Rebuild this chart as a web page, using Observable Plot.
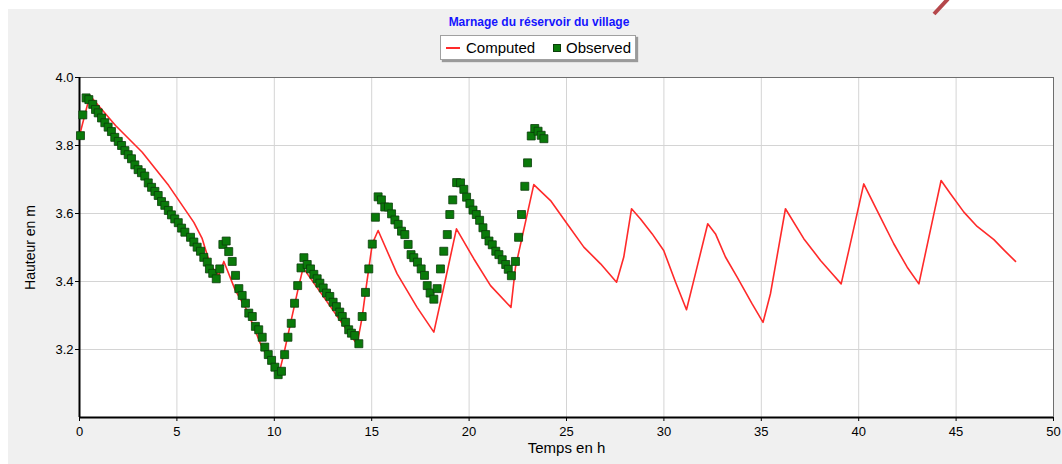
<!DOCTYPE html>
<html>
<head>
<meta charset="utf-8">
<script src="https://cdn.jsdelivr.net/npm/d3@7"></script>
<script src="https://cdn.jsdelivr.net/npm/@observablehq/plot@0.6"></script>
<style>
  body { margin:0; background:#fff; width:1062px; height:464px; overflow:hidden; position:relative; font-family:"Liberation Sans", Arial, sans-serif; }
  #panel { position:absolute; left:8px; top:9px; width:1054px; height:455px; background:#f0f0f0; }
  #title { position:absolute; left:0; width:1078px; top:15px; text-align:center; font-weight:bold; font-size:12px; line-height:14px; color:#1414ff; }
  #legend { position:absolute; left:440px; top:35px; width:196px; height:25px; box-sizing:border-box; background:#fff; border:1px solid #a0a0a0; box-shadow:2px 2px 1px #9a9a9a; font-size:15px; }
  #legend .sw-line { position:absolute; left:5px; top:11px; width:14px; height:2px; background:#ff2a2a; }
  #legend .sw-sq { position:absolute; left:112px; top:8px; width:6px; height:6px; background:#0a7a0a; border:1px solid #0b3d0b; }
  #legend .lab { position:absolute; top:3px; line-height:18px; color:#000; }
  #chart { position:absolute; left:0; top:66px; }
  #deco { position:absolute; left:925px; top:0; }
</style>
</head>
<body>
<div id="panel"></div>
<svg id="deco" width="30" height="16"><line x1="23" y1="-1" x2="9" y2="14" stroke="#b5474b" stroke-width="4"/></svg>
<div id="title">Marnage du réservoir du village</div>
<div id="legend">
  <div class="sw-line"></div><div class="lab" style="left:25px">Computed</div>
  <div class="sw-sq"></div><div class="lab" style="left:125px">Observed</div>
</div>
<div id="chart"></div>
<script>
const xTicks = [0, 5, 10, 15, 20, 25, 30, 35, 40, 45, 50];
const yTicks = [3.2, 3.4, 3.6, 3.8, 4.0];

// Computed series (time in h, height in m)
const computedT = [0.0, 0.53, 1.85, 3.22, 4.58, 5.87, 6.30, 6.72, 7.15, 7.41, 8.00, 8.60, 9.29, 10.20, 10.49, 10.83, 11.26, 11.48, 12.54, 13.74, 14.25, 14.51, 14.68, 15.03, 15.33, 16.30, 17.33, 18.19, 18.70, 19.35, 20.24, 21.10, 22.15, 22.38, 23.32, 24.18, 25.03, 25.89, 26.75, 27.57, 27.94, 28.34, 28.80, 29.40, 29.99, 30.60, 31.16, 31.62, 32.25, 32.65, 33.16, 33.76, 34.53, 35.09, 35.47, 36.24, 37.18, 38.04, 38.64, 39.10, 39.49, 40.26, 40.94, 41.80, 42.49, 43.09, 43.86, 44.23, 44.71, 45.40, 46.08, 46.94, 47.45, 48.05];
const computedH = [3.829, 3.947, 3.859, 3.780, 3.682, 3.574, 3.526, 3.447, 3.418, 3.459, 3.374, 3.315, 3.217, 3.120, 3.187, 3.276, 3.388, 3.440, 3.354, 3.256, 3.215, 3.295, 3.369, 3.511, 3.550, 3.423, 3.324, 3.251, 3.383, 3.555, 3.467, 3.388, 3.324, 3.442, 3.685, 3.638, 3.570, 3.501, 3.452, 3.398, 3.472, 3.614, 3.584, 3.540, 3.491, 3.398, 3.317, 3.423, 3.570, 3.540, 3.472, 3.413, 3.334, 3.280, 3.364, 3.614, 3.526, 3.462, 3.423, 3.393, 3.491, 3.687, 3.609, 3.511, 3.442, 3.393, 3.599, 3.697, 3.658, 3.604, 3.562, 3.523, 3.493, 3.459];

// Observed series
const observedT = [
  0.05, 0.17, 0.34, 0.48, 0.68, 0.82, 0.96, 1.13, 1.30, 1.47, 1.64, 1.81, 1.99, 2.16, 2.33, 2.50, 2.67, 2.84, 3.01, 3.18, 3.35, 3.53, 3.70, 3.87, 4.04, 4.21, 4.38, 4.56, 4.72, 4.89, 5.07, 5.24, 5.41,
  5.70, 5.87, 6.04, 6.21, 6.38, 6.56, 6.67, 6.84, 7.02, 7.20, 7.36, 7.53, 7.66, 7.84, 8.01, 8.18, 8.35, 8.52, 8.69, 8.87, 9.03, 9.20, 9.38, 9.51, 9.69, 9.86, 10.03, 10.20, 10.37,
  10.53, 10.70, 10.87, 11.04, 11.20, 11.37, 11.52, 11.69, 11.86, 12.03, 12.20, 12.34, 12.51, 12.68, 12.85, 13.02, 13.19, 13.36, 13.49, 13.66, 13.82, 13.96, 14.13, 14.34,
  14.51, 14.68, 14.85, 15.03, 15.19, 15.33, 15.50, 15.67, 15.86, 16.02, 16.19, 16.36, 16.53, 16.70, 16.87, 17.02, 17.16, 17.35, 17.54, 17.71, 17.85, 18.00, 18.19,
  18.36, 18.53, 18.70, 18.88, 19.01, 19.16, 19.36, 19.56, 19.73, 19.87, 20.04, 20.20, 20.37, 20.54, 20.71, 20.85, 21.02, 21.19, 21.37, 21.53, 21.70, 21.88, 22.01, 22.17, 22.38, 22.54, 22.69, 22.86, 23.00, 23.19, 23.37, 23.54, 23.70, 23.84
];
const observedH = [
  3.829, 3.890, 3.940, 3.935, 3.921, 3.906, 3.896, 3.881, 3.867, 3.854, 3.841, 3.824, 3.812, 3.800, 3.785, 3.773, 3.761, 3.743, 3.729, 3.720, 3.710, 3.690, 3.677, 3.665, 3.653, 3.635, 3.624, 3.609, 3.596, 3.584, 3.573, 3.557, 3.545,
  3.530, 3.516, 3.501, 3.489, 3.471, 3.457, 3.437, 3.424, 3.408, 3.437, 3.509, 3.519, 3.488, 3.459, 3.418, 3.379, 3.359, 3.336, 3.307, 3.297, 3.268, 3.258, 3.236, 3.207, 3.185, 3.168, 3.148, 3.126, 3.136,
  3.185, 3.236, 3.277, 3.336, 3.388, 3.440, 3.470, 3.450, 3.437, 3.421, 3.408, 3.395, 3.381, 3.366, 3.356, 3.339, 3.326, 3.310, 3.297, 3.280, 3.258, 3.248, 3.241, 3.217,
  3.297, 3.368, 3.437, 3.510, 3.589, 3.649, 3.640, 3.619, 3.619, 3.599, 3.581, 3.568, 3.548, 3.538, 3.509, 3.479, 3.470, 3.457, 3.437, 3.418, 3.388, 3.366, 3.348,
  3.379, 3.437, 3.489, 3.538, 3.597, 3.640, 3.691, 3.690, 3.671, 3.648, 3.629, 3.610, 3.597, 3.580, 3.558, 3.538, 3.519, 3.508, 3.489, 3.479, 3.464, 3.450, 3.436, 3.417, 3.459, 3.530, 3.597, 3.680, 3.749, 3.828, 3.850, 3.842, 3.830, 3.820
];

const computed = computedT.map((t, i) => ({t, h: computedH[i]}));
const observed = observedT.map((t, i) => ({t, h: observedH[i]}));

const chart = Plot.plot({
  width: 1062,
  height: 398,
  marginTop: 11,
  marginBottom: 47,
  marginLeft: 79,
  marginRight: 9,
  style: {background: "transparent", fontFamily: "'Liberation Sans', Arial, sans-serif", fontSize: "13px", color: "#000", overflow: "visible"},
  x: {domain: [0, 50]},
  y: {domain: [3.0, 4.0]},
  marks: [
    Plot.frame({fill: "white", stroke: null}),
    Plot.gridX({ticks: xTicks, stroke: "#d4d4d4", strokeOpacity: 1}),
    Plot.gridY({ticks: yTicks, stroke: "#d4d4d4", strokeOpacity: 1}),
    Plot.axisX({ticks: xTicks, tickSize: 4, tickPadding: 5, label: null, fontSize: 13}),
    Plot.axisY({ticks: yTicks, tickFormat: d3.format(".1f"), tickSize: 4, tickPadding: 2, label: null, fontSize: 13}),
    Plot.ruleX([50], {stroke: "#6e6e6e", strokeWidth: 1}),
    Plot.ruleY([4.0], {stroke: "#6e6e6e", strokeWidth: 1}),
    Plot.ruleX([0], {stroke: "#000", strokeWidth: 2}),
    Plot.ruleY([3.0], {stroke: "#000", strokeWidth: 2}),
    Plot.line(computed, {x: "t", y: "h", stroke: "#ff2a2a", strokeWidth: 1.6}),
    Plot.dot(observed, {x: "t", y: "h", symbol: "square", r: 4.5, fill: "#0a7a0a", stroke: "#0b3d0b", strokeWidth: 0.8}),
    Plot.text(["Temps en h"], {frameAnchor: "bottom", dy: 35, text: d => d, fontSize: 15, fill: "#000"}),
    Plot.text(["Hauteur en m"], {frameAnchor: "left", dx: -49, rotate: -90, textAnchor: "middle", text: d => d, fontSize: 14, fill: "#000"})
  ]
});
document.getElementById("chart").append(chart);
</script>
</body>
</html>
